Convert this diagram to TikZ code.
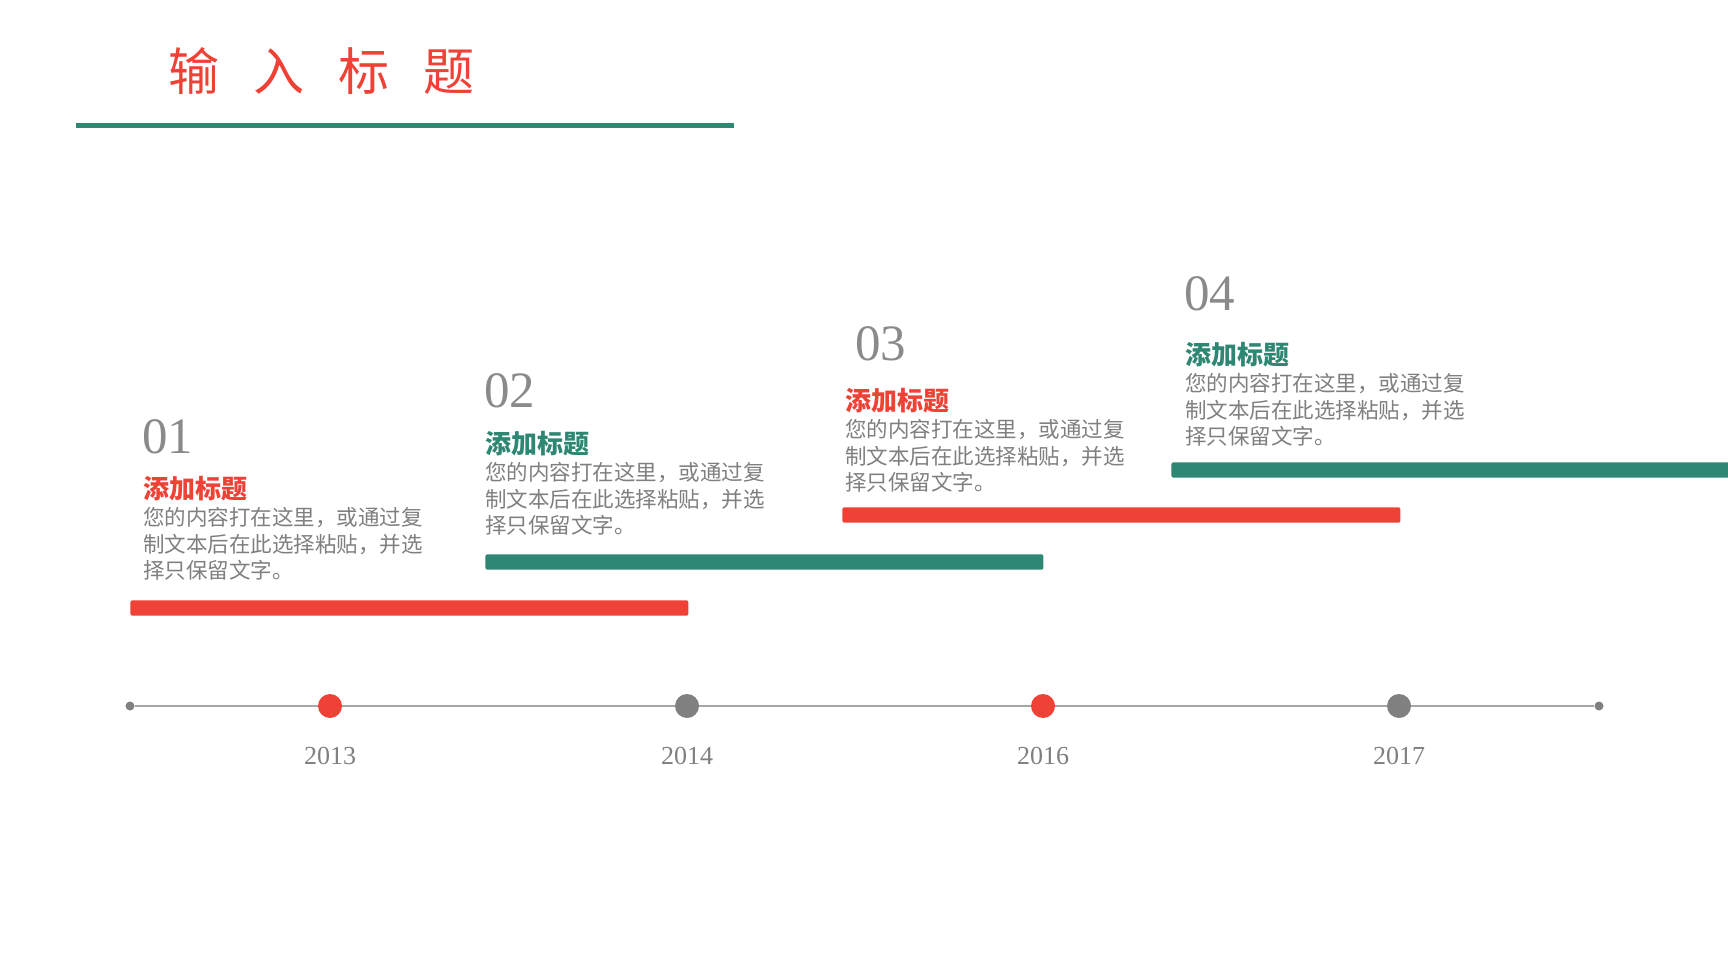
\documentclass[tikz,border=0pt]{standalone}
\usepackage{fontspec}
\setmainfont{Liberation Serif}
\newfontfamily\cjk{Noto Sans CJK SC}
\usetikzlibrary{positioning,backgrounds}
\definecolor{hired}{HTML}{EF4136}
\definecolor{hiteal}{HTML}{2E8773}
\definecolor{txtgray}{HTML}{7F7F7F}
\definecolor{numgray}{HTML}{8A8A8A}
\definecolor{linegray}{HTML}{A6A6A6}
\tikzstyle{num}=[inner sep=0pt, anchor=base west, text=numgray, font=\fontsize{25.5}{25.5}\selectfont]
\tikzstyle{head}=[inner sep=0pt, anchor=base west, font=\cjk\bfseries\fontsize{13}{13}\selectfont]
\tikzstyle{body}=[inner sep=0pt, align=left, text=txtgray, font=\cjk\fontsize{10.75}{13.25}\selectfont]
\tikzstyle{bar}=[inner sep=0pt, anchor=west, minimum width=279pt, minimum height=7.7pt, rounded corners=1pt]
\tikzstyle{dot}=[circle, inner sep=0pt, minimum size=12pt]
\tikzstyle{tip}=[circle, inner sep=0pt, minimum size=4.5pt, fill=gray]
\tikzstyle{year}=[inner sep=0pt, text=txtgray, font=\fontsize{13}{13}\selectfont]

\begin{document}
\begin{tikzpicture}[x=0.5pt, y=-0.5pt]
    \useasboundingbox (0,0) rectangle (1728,972);

    % title
    \node[inner sep=0pt, anchor=base west, text=hired, font=\cjk\fontsize{25.5}{25.5}\selectfont] (title) at (168,91)
        {输\hspace{17pt}入\hspace{17pt}标\hspace{17pt}题};
    \draw[hiteal, line width=2.5pt] (76,126) -- (734,126);

    % step 01
    \node[num] (n1) at (142,454) {01};
    \node[head,text=hired] (h1) at (143,499) {添加标题};
    \node[body] (b1) [below right=4pt and 0pt of h1.base west] {您的内容打在这里，或通过复\\制文本后在此选择粘贴，并选\\择只保留文字。};
    \node[bar,fill=hired] (r1) at (130,608) {};

    % step 02
    \node[num] (n2) at (484,408) {02};
    \node[head,text=hiteal] (h2) at (485,454) {添加标题};
    \node[body] (b2) [below right=4pt and 0pt of h2.base west] {您的内容打在这里，或通过复\\制文本后在此选择粘贴，并选\\择只保留文字。};
    \node[bar,fill=hiteal] (r2) at (485,562) {};

    % step 03
    \node[num] (n3) at (855,361) {03};
    \node[head,text=hired] (h3) at (845,411) {添加标题};
    \node[body] (b3) [below right=4pt and 0pt of h3.base west] {您的内容打在这里，或通过复\\制文本后在此选择粘贴，并选\\择只保留文字。};
    \node[bar,fill=hired] (r3) at (842,515) {};

    % step 04
    \node[num] (n4) at (1184,311) {04};
    \node[head,text=hiteal] (h4) at (1185,365) {添加标题};
    \node[body] (b4) [below right=4pt and 0pt of h4.base west] {您的内容打在这里，或通过复\\制文本后在此选择粘贴，并选\\择只保留文字。};
    \node[bar,fill=hiteal] (r4) at (1171,470) {};

    % timeline
    \node[tip] (t0) at (130,706) {};
    \node[dot,fill=hired] (d1) at (330,706) {};
    \node[dot,fill=gray] (d2) at (687,706) {};
    \node[dot,fill=hired] (d3) at (1043,706) {};
    \node[dot,fill=gray] (d4) at (1399,706) {};
    \node[tip] (t5) at (1599,706) {};
    \node[year] (y1) at (330,756) {2013};
    \node[year] (y2) at (687,756) {2014};
    \node[year] (y3) at (1043,756) {2016};
    \node[year] (y4) at (1399,756) {2017};

    \begin{pgfonlayer}{background}
        \draw[linegray, line width=0.8pt] (t0) -- (t5);
    \end{pgfonlayer}

\end{tikzpicture}
\end{document}
